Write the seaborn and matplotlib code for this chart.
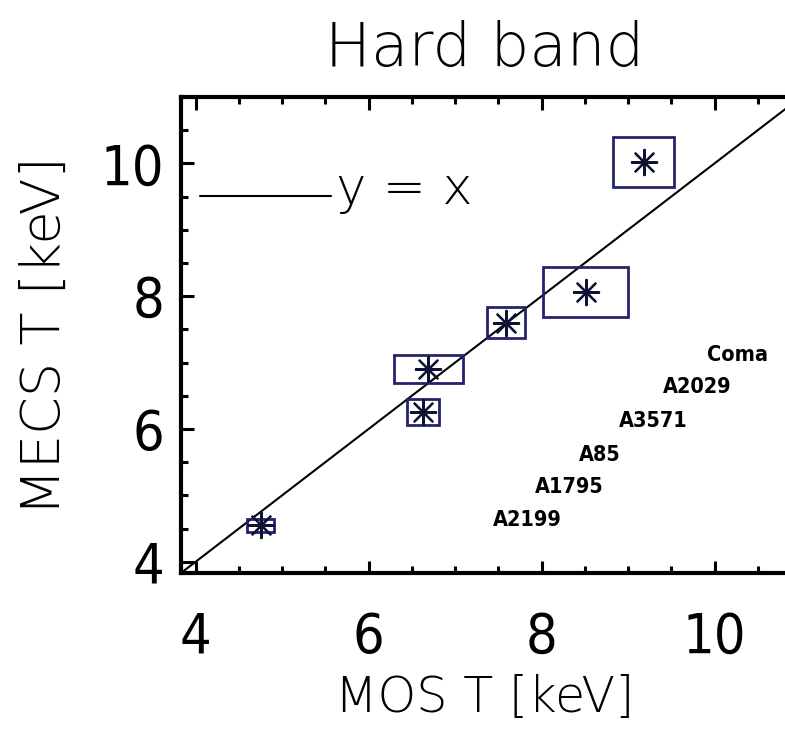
import numpy as np
import pandas as pd
import matplotlib
matplotlib.use("Agg")
import matplotlib.pyplot as plt
from matplotlib.patches import Rectangle
from matplotlib.lines import Line2D
from matplotlib import font_manager
import seaborn as sns

# ---- data ----
mos_t = [4.75, 6.63, 6.69, 7.59, 8.51, 9.18]
mecs_t = [4.55, 6.25, 6.90, 7.60, 8.06, 10.02]
mos_err = [0.16, 0.185, 0.40, 0.22, 0.49, 0.35]
mecs_err = [0.10, 0.195, 0.21, 0.23, 0.375, 0.37]

cluster_names = ["Coma", "A2029", "A3571", "A85", "A1795", "A2199"]
name_x = [10.27, 9.80, 9.29, 8.67, 8.32, 7.83]
name_y = [7.11, 6.63, 6.12, 5.60, 5.12, 4.63]

x_ticks = [4, 6, 8, 10]
y_ticks = [4, 6, 8, 10]
x_range = [3.83, 11.0]
y_range = [3.83, 11.0]

title = "Hard band"
x_label = "MOS T [keV]"
y_label = "MECS T [keV]"
ref_label = "y = x"

# ---- style ----
sns.set_theme(style="white")
plt.rcParams["font.family"] = ["DejaVu Sans"]
for k in ["text.color", "axes.labelcolor", "xtick.color", "ytick.color", "axes.edgecolor"]:
    plt.rcParams[k] = "black"

names = {f.name for f in font_manager.fontManager.ttflist}
narrow = "Liberation Sans Narrow" if "Liberation Sans Narrow" in names else None
thin_font = dict(family=narrow) if narrow else dict(family="DejaVu Sans", stretch="condensed")
light_font = dict(family="DejaVu Sans", weight="light")

navy = "#23236e"
star_col = "#111133"

df = pd.DataFrame({"mos": mos_t, "mecs": mecs_t, "xe": mos_err, "ye": mecs_err})

fig = plt.figure(figsize=(7.85, 7.36), dpi=100)
ax = fig.add_axes([181 / 785, (736 - 573) / 736, 620 / 785, 476 / 736])

# error boxes
for _, r in df.iterrows():
    ax.add_patch(Rectangle((r.mos - r.xe, r.mecs - r.ye), 2 * r.xe, 2 * r.ye,
                           fill=False, edgecolor=navy, linewidth=2.0, zorder=3))

# y = x line
ax.axline((x_range[0], x_range[0]), slope=1, color="black", linewidth=1.5, zorder=2)

# asterisks
sns.scatterplot(data=df, x="mos", y="mecs", marker=(8, 2, 0), s=330,
                color=star_col, linewidth=1.6, ax=ax, zorder=4, legend=False)

# cluster labels
for nm, tx, ty in zip(cluster_names, name_x, name_y):
    ax.text(tx, ty, nm, ha="center", va="center", fontsize=15.5, fontweight="bold",
            color="black", **thin_font)

ax.set_xlim(*x_range)
ax.set_ylim(*y_range)
ax.set_xticks(x_ticks)
ax.set_yticks(y_ticks)
ax.set_xticks(np.arange(4, 11.01, 0.5), minor=True)
ax.set_yticks(np.arange(4, 11.01, 0.5), minor=True)
ax.set_xticklabels([str(t) for t in x_ticks])
ax.set_yticklabels([str(t) for t in y_ticks])

for sp in ax.spines.values():
    sp.set_linewidth(3.0)
    sp.set_color("black")

ax.tick_params(which="both", direction="in", top=True, right=True, bottom=True, left=True,
               color="black", width=2.2)
ax.tick_params(which="major", length=9)
ax.tick_params(which="minor", length=5)
ax.tick_params(axis="x", which="major", pad=27, labelsize=40)
ax.tick_params(axis="y", which="major", pad=12, labelsize=40)
for lab in ax.get_xticklabels() + ax.get_yticklabels():
    lab.set_fontproperties(font_manager.FontProperties(size=40, **thin_font))
    lab.set_color("black")

ax.set_xlabel(x_label, fontsize=35.5, color="black", **light_font)
ax.set_ylabel(y_label, fontsize=39, color="black", **light_font)
ax.xaxis.set_label_coords((485 - 181) / 620, (573 - 674) / 476)
ax.yaxis.set_label_coords((72 - 181) / 620, (573 - 336) / 476)

fig.text(485 / 785, (736 - 66) / 736, title, ha="center", va="baseline",
         fontsize=44, color="black", **light_font)

leg = ax.legend(handles=[Line2D([], [], color="black", linewidth=1.5)], labels=[ref_label],
                loc="center left", bbox_to_anchor=((200 - 181) / 620, (573 - 190) / 476),
                frameon=False, handlelength=2.55, handletextpad=0.1, borderpad=0,
                borderaxespad=0, prop=font_manager.FontProperties(size=37, **light_font))
for t in leg.get_texts():
    t.set_color("black")
# lower the sample line to the text baseline, as in the reference
for ln in leg.get_lines():
    ln.set_ydata(np.asarray(ln.get_ydata(), dtype=float) - 7)

fig.savefig("out.png", dpi=100)
